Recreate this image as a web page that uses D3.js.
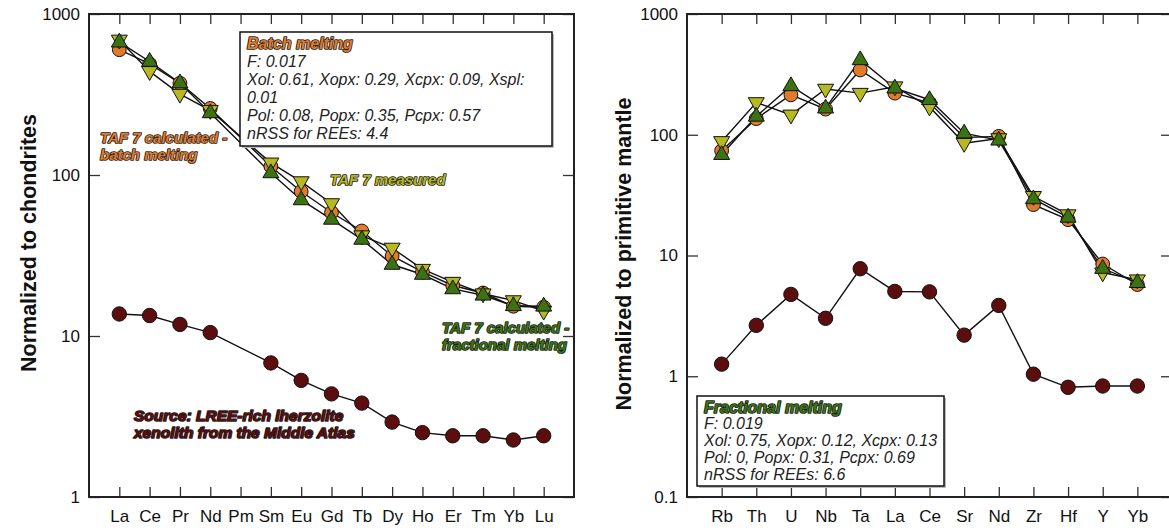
<html>
<head>
<script src="https://d3js.org/d3.v7.min.js"></script>
<style>
  body { margin: 0; background: #fff; }
  text { font-family: "Liberation Sans", Arial, Helvetica, sans-serif; }
  .lbl { font-weight: bold; font-style: italic; font-size: 15px; paint-order: stroke; stroke: #1a1a1a; stroke-width: 1.6px; stroke-linejoin: round; }
  .boxtxt { font-style: italic; font-size: 16px; fill: #222; }
</style>
</head>
<body>
<script>
// REE diagram (chondrite normalized)
var ree = ["La","Ce","Pr","Nd","Pm","Sm","Eu","Gd","Tb","Dy","Ho","Er","Tm","Yb","Lu"];
var reeSource     = [13.7, 13.4, 11.8, 10.5, null, 6.8, 5.3, 4.37, 3.83, 2.92, 2.51, 2.40, 2.40, 2.26, 2.40];
var reeBatch      = [600, 490, 372, 259, null, 113, 79, 58.5, 44.9, 31.4, 25, 20.6, 18.5, 15.3, 15.1];
var reeMeasured   = [690, 440, 318, 252, null, 119, 91, 66.5, 42, 35.2, 26, 21.6, 18.3, 16.6, 14.3];
var reeFractional = [668, 507, 373, 243, null, 103, 70, 53, 39.8, 27.8, 24.1, 19.6, 17.9, 15.4, 15.3];

// multi-element diagram (primitive mantle normalized)
var te = ["Rb","Th","U","Nb","Ta","La","Ce","Sr","Nd","Zr","Hf","Y","Yb"];
var teSource     = [1.26, 2.64, 4.76, 3.02, 7.77, 5.04, 5.0, 2.19, 3.86, 1.04, 0.81, 0.83, 0.83];
var teBatch      = [73.7, 136, 214, 163, 344, 221, 184, 95, 97, 26.4, 19.8, 8.5, 5.75];
var teMeasured   = [88, 185, 146, 239, 221, 250, 170, 85, 93, 30.9, 21.8, 7.2, 6.3];
var teFractional = [68.4, 142, 254, 166, 417, 243, 195, 103, 90, 29.4, 20.7, 7.8, 5.95];

var leftTicks = [1, 10, 100, 1000];
var rightTicks = [0.1, 1, 10, 100, 1000];

var cOrange = "#e27a2b", cYellow = "#b6b91f", cGreen = "#3c7312", cSource = "#5c0e0e";

var svg = d3.select("body").append("svg").attr("width", 1169).attr("height", 528);

var triUp = "M0,-9L8,4.8L-8,4.8Z";
var triDown = "M0,9L8,-4.8L-8,-4.8Z";

function panel(cats, yDomain, yTicks, xRange, series, source) {
  var x = d3.scaleLinear().domain([-1, cats.length]).range(xRange);
  var y = d3.scaleLog().domain(yDomain).range([497, 14]);
  var g = svg.append("g");
  var idx = d3.range(cats.length);

  // axes, all ticks pointing inward
  g.append("g").attr("transform", "translate(" + xRange[0] + ",0)")
    .call(d3.axisLeft(y).tickValues(yTicks).tickFormat(d3.format("")).tickSizeInner(-11).tickSizeOuter(0).tickPadding(9));
  g.append("g").attr("transform", "translate(" + xRange[1] + ",0)")
    .call(d3.axisRight(y).tickValues(yTicks).tickFormat("").tickSizeInner(-11).tickSizeOuter(0));
  g.append("g").attr("transform", "translate(0,497)")
    .call(d3.axisBottom(x).tickValues(idx).tickFormat(function(i) { return cats[i]; }).tickSizeInner(-10).tickSizeOuter(0).tickPadding(13));
  g.append("g").attr("transform", "translate(0,14)")
    .call(d3.axisTop(x).tickValues(idx).tickFormat("").tickSizeInner(-10).tickSizeOuter(0));
  g.selectAll(".domain").remove();
  g.selectAll(".tick line").attr("stroke", "#333").attr("stroke-width", 1.3);
  g.selectAll(".tick text").attr("font-size", "17px").attr("fill", "#111")
    .attr("font-family", "Liberation Sans, Arial, sans-serif");

  g.append("rect").attr("x", xRange[0]).attr("y", 14)
    .attr("width", xRange[1] - xRange[0]).attr("height", 483)
    .attr("fill", "none").attr("stroke", "#222").attr("stroke-width", 2);

  function pts(values) {
    return values.map(function(v, i) { return {i: i, v: v}; })
      .filter(function(d) { return d.v != null; });
  }
  var line = d3.line()
    .x(function(d) { return x(d.i); })
    .y(function(d) { return y(d.v); });

  var all = [source].concat(series.map(function(s) { return s.values; }));
  all.forEach(function(v) {
    g.append("path").attr("d", line(pts(v))).attr("fill", "none")
      .attr("stroke", "#111").attr("stroke-width", 1.4);
  });

  g.selectAll(".s0").data(pts(source)).enter().append("circle").attr("class", "s0")
    .attr("cx", function(d) { return x(d.i); }).attr("cy", function(d) { return y(d.v); })
    .attr("r", 7.2).attr("fill", cSource).attr("stroke", "#111").attr("stroke-width", 1);
  series.forEach(function(s, k) {
    var sel = g.selectAll(".s" + (k + 1)).data(pts(s.values)).enter();
    if (s.shape == "circle") {
      sel.append("circle").attr("class", "s" + (k + 1))
        .attr("cx", function(d) { return x(d.i); }).attr("cy", function(d) { return y(d.v); })
        .attr("r", 6.9).attr("fill", s.color).attr("stroke", "#111").attr("stroke-width", 1);
    } else {
      sel.append("path").attr("class", "s" + (k + 1))
        .attr("d", s.shape == "up" ? triUp : triDown)
        .attr("transform", function(d) { return "translate(" + x(d.i) + "," + y(d.v) + ")"; })
        .attr("fill", s.color).attr("stroke", "#111").attr("stroke-width", 1);
    }
  });
  return g;
}

panel(ree, [1, 1000], leftTicks, [89, 574], [
  {values: reeBatch, color: cOrange, shape: "circle"},
  {values: reeMeasured, color: cYellow, shape: "down"},
  {values: reeFractional, color: cGreen, shape: "up"}
], reeSource);

panel(te, [0.1, 1000], rightTicks, [687, 1172], [
  {values: teBatch, color: cOrange, shape: "circle"},
  {values: teMeasured, color: cYellow, shape: "down"},
  {values: teFractional, color: cGreen, shape: "up"}
], teSource);

// axis titles
svg.append("text").attr("transform", "translate(36,243) rotate(-90)")
  .attr("text-anchor", "middle").attr("font-weight", "bold").attr("font-size", "21.5px")
  .attr("fill", "#111").text("Normalized to chondrites");
svg.append("text").attr("transform", "translate(631,254) rotate(-90)")
  .attr("text-anchor", "middle").attr("font-weight", "bold").attr("font-size", "21.5px")
  .attr("fill", "#111").text("Normalized to primitive mantle");

// series labels
function label(xp, yp, lines, color, size) {
  var t = svg.append("text").attr("class", "lbl").attr("fill", color);
  if (size) t.style("font-size", size + "px");
  lines.forEach(function(s, i) {
    t.append("tspan").attr("x", xp).attr("y", yp + i * 17).text(s);
  });
}
label(100, 143, ["TAF 7 calculated -", "batch melting"], cOrange);
label(330, 185, ["TAF 7 measured"], cYellow);
label(442, 333, ["TAF 7 calculated -", "fractional melting"], cGreen);
label(134, 421, ["Source: LREE-rich lherzolite", "xenolith from the Middle Atlas"], cSource, 15.5);

// parameter boxes
function box(x0, y0, w, h, title, color, lines, lh) {
  svg.append("rect").attr("x", x0 + 2).attr("y", y0 + 2).attr("width", w).attr("height", h)
    .attr("fill", "#bbb");
  svg.append("rect").attr("x", x0).attr("y", y0).attr("width", w).attr("height", h)
    .attr("fill", "#fff").attr("stroke", "#111").attr("stroke-width", 1.5);
  svg.append("text").attr("class", "lbl").attr("fill", color).style("font-size", "16px")
    .attr("x", x0 + 7).attr("y", y0 + 16.5).text(title);
  var t = svg.append("text").attr("class", "boxtxt");
  lines.forEach(function(s, i) {
    t.append("tspan").attr("x", x0 + 7).attr("y", y0 + 16.5 + (i + 1) * lh).text(s);
  });
}
box(240, 32, 312, 114, "Batch melting", cOrange,
  ["F: 0.017", "Xol: 0.61, Xopx: 0.29, Xcpx: 0.09, Xspl:", "0.01",
   "Pol: 0.08, Popx: 0.35, Pcpx: 0.57", "nRSS for REEs: 4.4"], 18);
box(697, 396, 247, 90, "Fractional melting", cGreen,
  ["F: 0.019", "Xol: 0.75, Xopx: 0.12, Xcpx: 0.13",
   "Pol: 0, Popx: 0.31, Pcpx: 0.69", "nRSS for REEs: 6.6"], 16.8);
</script>
</body>
</html>
